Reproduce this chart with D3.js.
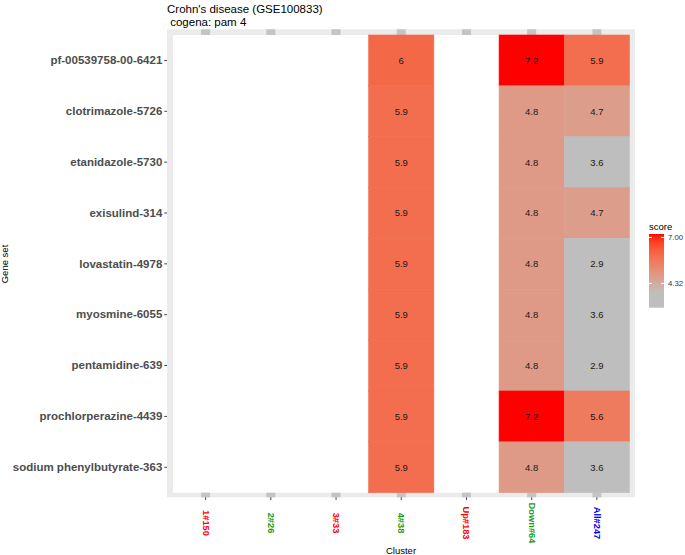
<!DOCTYPE html>
<html>
<head>
<meta charset="utf-8">
<script src="https://cdn.jsdelivr.net/npm/d3@7"></script>
<style>
  body { margin: 0; background: #fff; }
  svg { display: block; font-family: "Liberation Sans", Arial, sans-serif; }
</style>
</head>
<body>
<svg id="chart" width="685" height="555"></svg>
<script>
// ---- data ----
const geneSets = [
  "pf-00539758-00-6421", "clotrimazole-5726", "etanidazole-5730", "exisulind-314",
  "lovastatin-4978", "myosmine-6055", "pentamidine-639", "prochlorperazine-4439",
  "sodium phenylbutyrate-363"
];
const clusters = ["1#150", "2#26", "3#33", "4#38", "Up#183", "Down#64", "All#247"];
const clusterColors = ["#FF0000", "#1E9A1E", "#FF0000", "#1E9A1E", "#FF0000", "#1E9A1E", "#0000FF"];
// scores per cluster column (other clusters have no value)
const score_4_38   = [6, 5.9, 5.9, 5.9, 5.9, 5.9, 5.9, 5.9, 5.9];
const score_Down64 = [7.2, 4.8, 4.8, 4.8, 4.8, 4.8, 4.8, 7.2, 4.8];
const score_All247 = [5.9, 4.7, 3.6, 4.7, 2.9, 3.6, 2.9, 5.6, 3.6];
const legendBreaks = [7.00, 4.32];
const titleLines = ["Crohn's disease (GSE100833)", " cogena: pam 4"];

const cells = [];
[["4#38", score_4_38], ["Down#64", score_Down64], ["All#247", score_All247]].forEach(([c, vals]) => {
  vals.forEach((v, i) => cells.push({ cluster: c, gene: geneSets[i], value: v }));
});

// ---- layout ----
const svg = d3.select("#chart");
const x = d3.scaleBand().domain(clusters).range([173, 629.5]);
const y = d3.scaleBand().domain(geneSets).range([35, 492.7]);

const vMin = d3.min(cells, d => d.value), vMax = d3.max(cells, d => d.value);
const gradStart = 3.75;
const colorAbove = d3.scaleLinear().domain([gradStart, vMax]).range(["#BEBEBE", "#FF0000"])
  .interpolate(d3.interpolateLab).clamp(true);
const color = v => colorAbove(v);

// panel background
svg.append("rect").attr("x", 167).attr("y", 29.3).attr("width", 635 - 167).attr("height", 497.3 - 29.3)
  .attr("fill", "#EBEBEB");
svg.append("rect").attr("x", x.range()[0]).attr("y", y.range()[0])
  .attr("width", x.range()[1] - x.range()[0]).attr("height", y.range()[1] - y.range()[0])
  .attr("fill", "#FFFFFF");

// grid stubs
clusters.forEach(c => {
  const cx = x(c) + x.bandwidth() / 2;
  svg.append("rect").attr("x", cx - 4.5).attr("y", 29.3).attr("width", 9).attr("height", 35 - 29.3).attr("fill", "#C4C4C4");
  svg.append("rect").attr("x", cx - 4.5).attr("y", 492.7).attr("width", 9).attr("height", 497.3 - 492.7).attr("fill", "#C4C4C4");
});

// tiles
svg.append("g").selectAll("rect").data(cells).join("rect")
  .attr("x", d => x(d.cluster)).attr("y", d => y(d.gene))
  .attr("width", x.bandwidth()).attr("height", y.bandwidth())
  .attr("fill", d => color(d.value))
  .attr("stroke", d => color(d.value)).attr("stroke-width", 0.6);

svg.append("g").selectAll("text").data(cells).join("text")
  .attr("x", d => x(d.cluster) + x.bandwidth() / 2)
  .attr("y", d => y(d.gene) + y.bandwidth() / 2)
  .attr("text-anchor", "middle").attr("dominant-baseline", "central")
  .attr("font-size", "9.5px").attr("fill", "#1A1A1A")
  .text(d => String(d.value));

// y axis
const yAxis = svg.append("g").attr("transform", "translate(167,0)")
  .call(d3.axisLeft(y).tickSize(2.7).tickPadding(2));
yAxis.select(".domain").remove();
yAxis.selectAll("line").attr("stroke", "#444").attr("stroke-width", 1);
yAxis.selectAll("text").attr("font-size", "11.5px").attr("font-weight", "bold").attr("fill", "#4D4D4D")
  .attr("font-family", "'Liberation Sans', Arial, sans-serif");

// x axis
const xAxis = svg.append("g").attr("transform", "translate(0,497.3)")
  .call(d3.axisBottom(x).tickSize(2.7).tickFormat(""));
xAxis.select(".domain").remove();
xAxis.selectAll("line").attr("stroke", "#444").attr("stroke-width", 1);
svg.append("g").selectAll("text").data(clusters).join("text")
  .attr("transform", (d) => `translate(${x(d) + x.bandwidth() / 2},523) rotate(90)`)
  .attr("text-anchor", "middle").attr("dominant-baseline", "central")
  .attr("font-size", "9.3px").attr("font-weight", "bold")
  .attr("fill", (d, i) => clusterColors[i])
  .text(d => d);

// axis titles
svg.append("text").attr("x", 401).attr("y", 553.5).attr("text-anchor", "middle")
  .attr("font-size", "9.5px").attr("fill", "#000").text("Cluster");
svg.append("text").attr("transform", "translate(8,264) rotate(-90)").attr("text-anchor", "middle")
  .attr("font-size", "9.5px").attr("fill", "#000").text("Gene set");

// title
svg.append("g").selectAll("text").data(titleLines).join("text")
  .attr("x", 167).attr("y", (d, i) => 13 + i * 12.5)
  .attr("font-size", "11.5px").attr("fill", "#000")
  .attr("xml:space", "preserve").style("white-space", "pre")
  .text(d => d);

// legend
const lg = svg.append("g");
lg.append("text").attr("x", 649).attr("y", 230).attr("font-size", "9.5px").attr("fill", "#000").text("score");
const barTop = 234, barBot = 307.7, barX = 649, barW = 15;
const ly = d3.scaleLinear().domain([vMax, vMin]).range([barTop, barBot]);
const defs = svg.append("defs");
const grad = defs.append("linearGradient").attr("id", "lgrad").attr("x1", 0).attr("y1", 0).attr("x2", 0).attr("y2", 1);
d3.range(0, 41).forEach(i => {
  const v = vMax - (vMax - vMin) * i / 40;
  grad.append("stop").attr("offset", (i / 40)).attr("stop-color", color(v));
});
lg.append("rect").attr("x", barX).attr("y", barTop).attr("width", barW).attr("height", barBot - barTop)
  .attr("fill", "url(#lgrad)");
legendBreaks.forEach(b => {
  const yy = ly(b);
  lg.append("line").attr("x1", barX).attr("x2", barX + 3).attr("y1", yy).attr("y2", yy).attr("stroke", "#fff").attr("stroke-width", 1);
  lg.append("line").attr("x1", barX + barW - 3).attr("x2", barX + barW).attr("y1", yy).attr("y2", yy).attr("stroke", "#fff").attr("stroke-width", 1);
  lg.append("text").attr("x", 668).attr("y", yy).attr("dominant-baseline", "central")
    .attr("font-size", "7.8px").attr("fill", "#333").text(b.toFixed(2));
});
</script>
</body>
</html>
